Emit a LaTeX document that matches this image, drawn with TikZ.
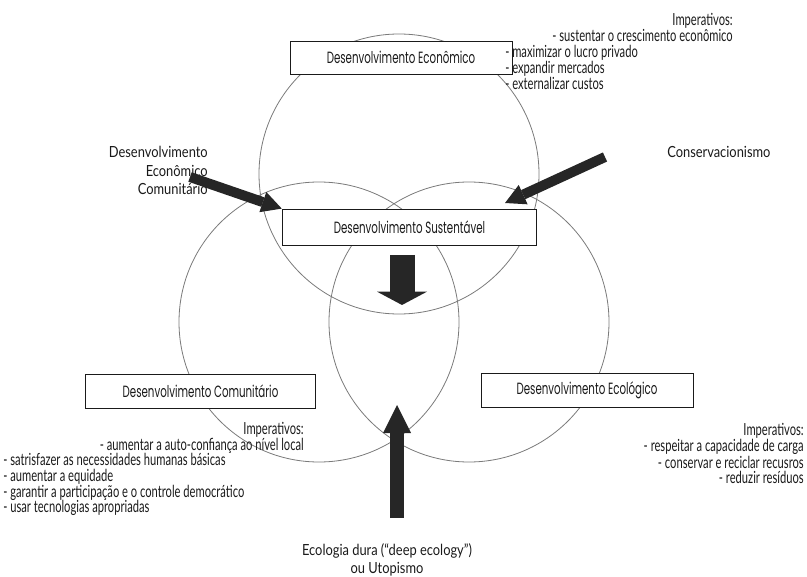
\documentclass[tikz,border=0pt]{standalone}
\usepackage{fontspec}
\setmainfont{Lato}
\newfontfamily\boxfont[FakeStretch=0.63]{Poppins}
\newfontfamily\listfont[FakeStretch=0.67]{Lato}
\newfontfamily\sidefont[FakeStretch=0.84]{Lato}
\usetikzlibrary{arrows.meta,positioning}

\definecolor{ringgray}{HTML}{7A7A7A}
\definecolor{arrowgray}{HTML}{262626}
\definecolor{textgray}{HTML}{1A1A1A}

\tikzset{
  ring/.style={draw=ringgray, line width=0.6pt},
  label box/.style={draw=textgray, fill=white, line width=0.6pt, inner sep=0pt,
    text=textgray, font=\boxfont\fontsize{12.2}{14}\selectfont},
  imperatives/.style={inner sep=0pt, text=textgray,
    font=\listfont\fontsize{12.5}{11.8}\selectfont},
  side text/.style={inner sep=0pt, text=textgray,
    font=\sidefont\fontsize{11.5}{14}\selectfont},
  slim arrow/.style={draw=arrowgray, line width=7.5pt,
    -{Triangle[width=16pt, length=15pt, line width=0pt]}},
  down arrow/.style={draw=arrowgray, line width=18.75pt,
    -{Triangle[width=37.5pt, length=10pt, line width=0pt]}},
  up arrow/.style={draw=arrowgray, line width=10pt,
    -{Triangle[width=21pt, length=21pt, line width=0pt]}},
}

\begin{document}
\begin{tikzpicture}[x=0.75pt, y=-0.75pt]
  \useasboundingbox (0,0) rectangle (807,577);

  % the three spheres
  \draw[ring] (399,174) circle[radius=105pt];
  \draw[ring] (319,322) circle[radius=105pt];
  \draw[ring] (469,322) circle[radius=105pt];

  \node[label box, minimum width=166.5pt, minimum height=24.75pt] (econ) at (401,57.5) {Desenvolvimento Econômico};
  \node[label box, minimum width=191pt, minimum height=27pt] (sust) at (409.5,227) {Desenvolvimento Sustentável};
  \node[label box, minimum width=172pt, minimum height=25pt] (comun) at (200.5,391.5) {Desenvolvimento Comunitário};
  \node[label box, minimum width=159pt, minimum height=26pt] (ecol) at (587,390.5) {Desenvolvimento Ecológico};

  \node[imperatives, align=right, anchor=north east] (econimp) at (733,13) {Imperativos:\\- sustentar o crescimento econômico};
  \node[imperatives, align=left, anchor=north west] (econlist) at (505,45) {- maximizar o lucro privado\\- expandir mercados\\- externalizar custos};

  \node[imperatives, align=right, anchor=north east] (comunimp) at (304,422) {Imperativos:\\- aumentar a auto-confiança ao nível local};
  \node[imperatives, align=left, anchor=north west] (comunlist) at (3,453) {- satrisfazer as necessidades humanas básicas\\- aumentar a equidade\\- garantir a participação e o controle democrático\\- usar tecnologias apropriadas};

  \node[imperatives, align=right, anchor=north east, font=\listfont\fontsize{12.5}{11}\selectfont] (ecolimp) at (804,423) {Imperativos:\\- respeitar a capacidade de carga\\- conservar e reciclar recusros\\- reduzir resíduos};

  \node[side text, align=right, anchor=north east] (decom) at (208,146) {Desenvolvimento\\Econômico\\Comunitário};
  \node[side text, anchor=north west] (conserv) at (667,146) {Conservacionismo};
  \node[side text, align=center, anchor=north, font=\sidefont\fontsize{11.5}{13.5}\selectfont] (deep) at (387,543) {Ecologia dura (“deep ecology”)\\ou Utopismo};

  \coordinate (dectail) at (190,177);
  \coordinate (constail) at (605,157);
  \coordinate (constip) at (505,203);
  \coordinate (downtop) at (402,255);
  \coordinate (downtip) at (402,305);
  \coordinate (uptail) at (397,518);
  \coordinate (uptip) at (397,405);

  \draw[slim arrow] (dectail) -- (sust.north west);
  \draw[slim arrow] (constail) -- (constip);
  \draw[down arrow] (downtop) -- (downtip);
  \draw[up arrow] (uptail) -- (uptip);
\end{tikzpicture}
\end{document}
